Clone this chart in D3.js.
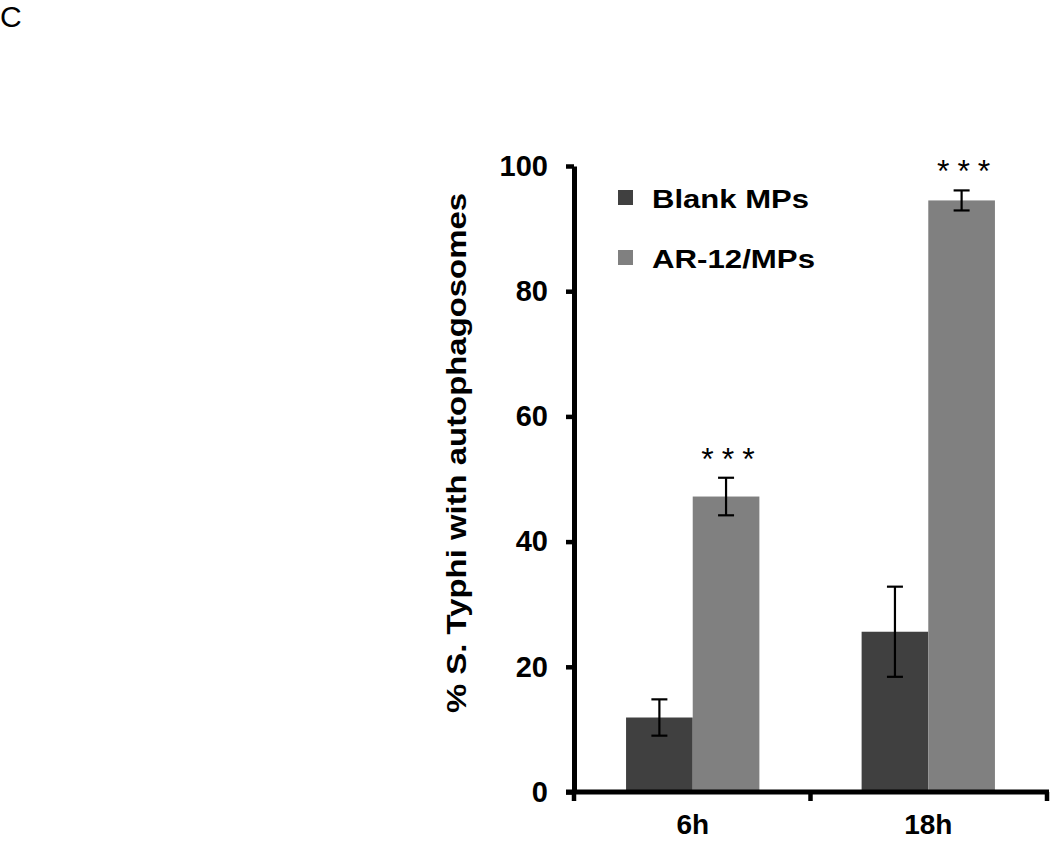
<!DOCTYPE html>
<html>
<head>
<meta charset="utf-8">
<script src="https://cdn.jsdelivr.net/npm/d3@7"></script>
<style>
  html, body { margin: 0; padding: 0; background: #fff; }
  svg { display: block; }
  text { font-family: "Liberation Sans", Arial, sans-serif; }
</style>
</head>
<body>
<svg id="chart" width="1050" height="841"></svg>
<script>
// ---- data ----
const categories = ["6h", "18h"];
const series = ["Blank MPs", "AR-12/MPs"];
const blankMeans = [11.9, 25.6];
const blankErrors = [2.9, 7.2];
const arMeans = [47.2, 94.5];
const arErrors = [3.0, 1.6];
const significance = ["***", "***"];
const yTicks = [0, 20, 40, 60, 80, 100];
const colors = ["#404040", "#808080"];

const svg = d3.select("#chart");

// panel letter
svg.append("text").attr("x", 0).attr("y", 27)
  .attr("font-size", 30).attr("fill", "#000").text("C");

const x0 = 574, x1 = 1047, yTop = 166, yBot = 792;

const x = d3.scaleBand().domain(categories).range([x0, x1])
  .paddingInner(0.434).paddingOuter(0.221);
const xs = d3.scaleBand().domain(series).range([0, x.bandwidth()]).padding(0);
const y = d3.scaleLinear().domain([0, 100]).range([yBot, yTop]);

const rows = categories.map((c, i) => ({
  cat: c,
  vals: [
    { s: series[0], v: blankMeans[i], e: blankErrors[i] },
    { s: series[1], v: arMeans[i], e: arErrors[i] }
  ],
  sig: significance[i]
}));

// bars
const g = svg.append("g");
const grp = g.selectAll("g.grp").data(rows).join("g")
  .attr("transform", d => `translate(${x(d.cat)},0)`);
grp.selectAll("rect").data(d => d.vals).join("rect")
  .attr("x", d => xs(d.s))
  .attr("y", d => y(d.v))
  .attr("width", xs.bandwidth())
  .attr("height", d => y(0) - y(d.v))
  .attr("fill", (d, i) => colors[i]);

// error bars
const cap = 8;
grp.selectAll("g.err").data(d => d.vals).join("g").each(function(d) {
  const cx = xs(d.s) + xs.bandwidth() / 2;
  const sel = d3.select(this);
  sel.append("line").attr("x1", cx).attr("x2", cx)
    .attr("y1", y(d.v + d.e)).attr("y2", y(d.v - d.e));
  sel.append("line").attr("x1", cx - cap).attr("x2", cx + cap)
    .attr("y1", y(d.v + d.e)).attr("y2", y(d.v + d.e));
  sel.append("line").attr("x1", cx - cap).attr("x2", cx + cap)
    .attr("y1", y(d.v - d.e)).attr("y2", y(d.v - d.e));
  sel.selectAll("line").attr("stroke", "#000").attr("stroke-width", 2.2);
});

// significance stars
grp.append("text")
  .attr("x", d => xs(series[1]) + xs.bandwidth() / 2 + 2 + 4)
  .attr("y", d => y(d.vals[1].v + d.vals[1].e) - 8)
  .attr("text-anchor", "middle")
  .attr("font-size", 32)
  .attr("letter-spacing", 8)
  .attr("fill", "#000")
  .text(d => d.sig);

// y axis
const yAxis = d3.axisLeft(y).tickValues(yTicks).tickSize(8).tickSizeOuter(0).tickPadding(18);
const ya = svg.append("g").attr("transform", `translate(${x0},0)`).call(yAxis);
ya.select(".domain").attr("stroke", "#000").attr("stroke-width", 5);
ya.selectAll(".tick line").attr("stroke", "#000").attr("stroke-width", 4.5);
ya.selectAll(".tick text").attr("font-size", 29).attr("font-weight", "bold")
  .attr("fill", "#000").attr("font-family", "'Liberation Sans', Arial, sans-serif");

// x axis
const xa = svg.append("g");
xa.append("line").attr("x1", x0 - 8).attr("x2", x1 + 2)
  .attr("y1", yBot).attr("y2", yBot)
  .attr("stroke", "#000").attr("stroke-width", 5);
const mid = (x(categories[0]) + x.bandwidth() + x(categories[1])) / 2;
const bounds = [x0, mid, x1];
xa.selectAll("line.tk").data(bounds).join("line").attr("class", "tk")
  .attr("x1", d => d).attr("x2", d => d)
  .attr("y1", yBot).attr("y2", yBot + 9)
  .attr("stroke", "#000").attr("stroke-width", 4.5);
xa.selectAll("text.cat").data(categories).join("text").attr("class", "cat")
  .attr("x", d => x(d) + x.bandwidth() / 2)
  .attr("y", 834)
  .attr("text-anchor", "middle")
  .attr("font-size", 28).attr("font-weight", "bold").attr("fill", "#000")
  .text(d => d);

// y label
svg.append("text")
  .attr("transform", "translate(466,453) rotate(-90)")
  .attr("text-anchor", "middle")
  .attr("font-size", 28).attr("font-weight", "bold").attr("fill", "#000")
  .attr("textLength", 520).attr("lengthAdjust", "spacingAndGlyphs")
  .text("% S. Typhi with autophagosomes");

// legend
const legY = [198, 258];
const legW = [157, 163];
const leg = svg.append("g");
series.forEach((s, i) => {
  leg.append("rect").attr("x", 618).attr("y", legY[i] - 8).attr("width", 15).attr("height", 15)
    .attr("fill", colors[i]);
  leg.append("text").attr("x", 652).attr("y", legY[i] + 10)
    .attr("font-size", 26).attr("font-weight", "bold").attr("fill", "#000")
    .attr("textLength", legW[i]).attr("lengthAdjust", "spacingAndGlyphs")
    .text(s);
});
</script>
</body>
</html>
